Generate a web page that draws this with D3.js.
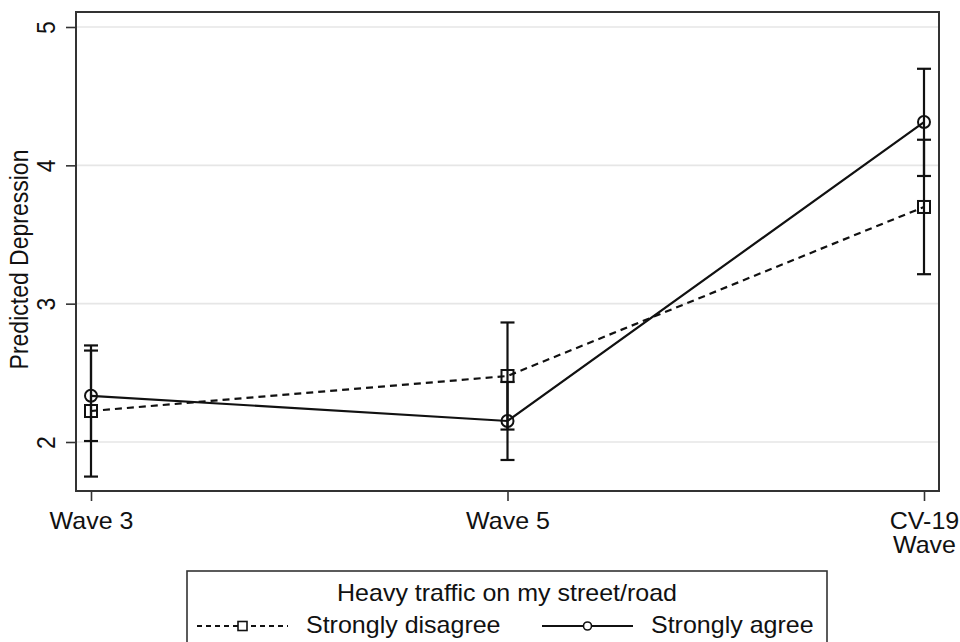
<!DOCTYPE html>
<html>
<head>
<meta charset="utf-8">
<script src="https://cdn.jsdelivr.net/npm/d3@7"></script>
<style>
  html, body { margin: 0; padding: 0; background: #fff; }
  svg { display: block; font-family: "Liberation Sans", Arial, sans-serif; }
</style>
</head>
<body>
<svg id="chart" width="960" height="642"></svg>
<script>
// Survey waves on the x axis
const waves = ["Wave 3", "Wave 5", "CV-19 Wave"];
const waveLabels = [["Wave 3"], ["Wave 5"], ["CV-19", "Wave"]];

// Predicted depression with 95% confidence limits
const disagreeMean = [2.224, 2.477, 3.699];
const disagreeLow  = [1.750, 2.090, 3.213];
const disagreeHigh = [2.698, 2.864, 4.185];

const agreeMean = [2.334, 2.152, 4.313];
const agreeLow  = [2.007, 1.870, 3.923];
const agreeHigh = [2.661, 2.434, 4.698];

const yTicks = [2, 3, 4, 5];
const legendTitle = "Heavy traffic on my street/road";
const seriesNames = ["Strongly disagree", "Strongly agree"];

const svg = d3.select("#chart");
const frame = { left: 76, right: 939, top: 12, bottom: 491 };

const x = d3.scalePoint().domain(waves).range([91, 924]);
const y = d3.scaleLinear().domain([2, 5]).range([442, 27]);

const ink = "#111";
const fontSize = 23;
const wide = 1.087;   // text is set slightly wider than tall

// gridlines
svg.append("g").selectAll("line").data(yTicks).join("line")
  .attr("x1", frame.left).attr("x2", frame.right)
  .attr("y1", d => y(d)).attr("y2", d => y(d))
  .attr("stroke", "#e6e6e6").attr("stroke-width", 1.6);

// y axis
const yAxis = svg.append("g")
  .attr("transform", `translate(${frame.left},0)`)
  .call(d3.axisLeft(y).tickValues(yTicks).tickFormat(d3.format("d")).tickSize(10).tickPadding(0));
yAxis.select(".domain").remove();
yAxis.selectAll(".tick line").attr("stroke", "#333").attr("stroke-width", 1.6);
yAxis.selectAll(".tick text")
  .attr("fill", ink).attr("font-size", fontSize)
  .attr("x", null).attr("dy", null)
  .attr("text-anchor", "middle")
  .attr("transform", `translate(-21,0) scale(${wide},1) rotate(-90)`);

// x axis
const xAxis = svg.append("g")
  .attr("transform", `translate(0,${frame.bottom})`)
  .call(d3.axisBottom(x).tickSize(10).tickFormat(""));
xAxis.select(".domain").remove();
xAxis.selectAll(".tick line").attr("stroke", "#333").attr("stroke-width", 1.6);
xAxis.selectAll(".tick").each(function(d, i) {
  waveLabels[i].forEach((line, j) => {
    d3.select(this).append("text")
      .attr("fill", ink).attr("font-size", fontSize)
      .attr("text-anchor", "middle")
      .attr("transform", `translate(0,${38 + j * 24}) scale(${wide},1)`)
      .text(line);
  });
});

// plot frame
svg.append("rect")
  .attr("x", frame.left).attr("y", frame.top)
  .attr("width", frame.right - frame.left).attr("height", frame.bottom - frame.top)
  .attr("fill", "none").attr("stroke", "#333").attr("stroke-width", 2);

// y axis title
svg.append("text")
  .attr("transform", `translate(28,${(frame.top + frame.bottom) / 2 + 8}) scale(${wide},1) rotate(-90)`)
  .attr("text-anchor", "middle").attr("font-size", fontSize).attr("fill", ink)
  .text("Predicted Depression");

const series = [
  { mean: disagreeMean, low: disagreeLow, high: disagreeHigh, dash: "7,5", marker: "square" },
  { mean: agreeMean, low: agreeLow, high: agreeHigh, dash: null, marker: "circle" }
];

const plot = svg.append("g");
const capHalf = 7;

series.forEach(s => {
  const g = plot.append("g");
  // confidence interval bars with caps
  waves.forEach((w, i) => {
    const cx = x(w);
    g.append("line").attr("x1", cx).attr("x2", cx)
      .attr("y1", y(s.low[i])).attr("y2", y(s.high[i]))
      .attr("stroke", ink).attr("stroke-width", 2.2);
    [s.low[i], s.high[i]].forEach(v => {
      g.append("line").attr("x1", cx - capHalf).attr("x2", cx + capHalf)
        .attr("y1", y(v)).attr("y2", y(v))
        .attr("stroke", ink).attr("stroke-width", 2.2);
    });
  });
  // connecting line
  const line = d3.line().x((d, i) => x(waves[i])).y(d => y(d));
  g.append("path").datum(s.mean).attr("d", line)
    .attr("fill", "none").attr("stroke", ink).attr("stroke-width", 2.2)
    .attr("stroke-dasharray", s.dash);
  // hollow markers
  if (s.marker === "circle") {
    g.selectAll("circle").data(s.mean).join("circle")
      .attr("cx", (d, i) => x(waves[i])).attr("cy", d => y(d)).attr("r", 6)
      .attr("fill", "none").attr("stroke", ink).attr("stroke-width", 2);
  } else {
    g.selectAll("rect").data(s.mean).join("rect")
      .attr("x", (d, i) => x(waves[i]) - 6).attr("y", d => y(d) - 6)
      .attr("width", 12).attr("height", 12)
      .attr("fill", "none").attr("stroke", ink).attr("stroke-width", 2);
  }
});

// legend
const legend = svg.append("g");
legend.append("rect")
  .attr("x", 187).attr("y", 571).attr("width", 640).attr("height", 90)
  .attr("fill", "#fff").attr("stroke", "#333").attr("stroke-width", 1.6);
legend.append("text")
  .attr("transform", `translate(507,601) scale(${wide},1)`).attr("text-anchor", "middle")
  .attr("font-size", fontSize).attr("fill", ink).text(legendTitle);

const keyStarts = [197, 542];
series.forEach((s, i) => {
  const k = legend.append("g");
  const x0 = keyStarts[i], x1 = x0 + 91, cy = 626, mid = (x0 + x1) / 2;
  k.append("line").attr("x1", x0).attr("x2", x1).attr("y1", cy).attr("y2", cy)
    .attr("stroke", ink).attr("stroke-width", 2).attr("stroke-dasharray", s.dash ? "5,4" : null);
  if (s.marker === "circle") {
    k.append("circle").attr("cx", mid).attr("cy", cy).attr("r", 4)
      .attr("fill", "#fff").attr("stroke", ink).attr("stroke-width", 1.6);
  } else {
    k.append("rect").attr("x", mid - 4.5).attr("y", cy - 4.5).attr("width", 9).attr("height", 9)
      .attr("fill", "#fff").attr("stroke", ink).attr("stroke-width", 1.6);
  }
  k.append("text").attr("transform", `translate(${x1 + 18},633) scale(${wide},1)`)
    .attr("font-size", fontSize).attr("fill", ink).text(seriesNames[i]);
});
</script>
</body>
</html>
